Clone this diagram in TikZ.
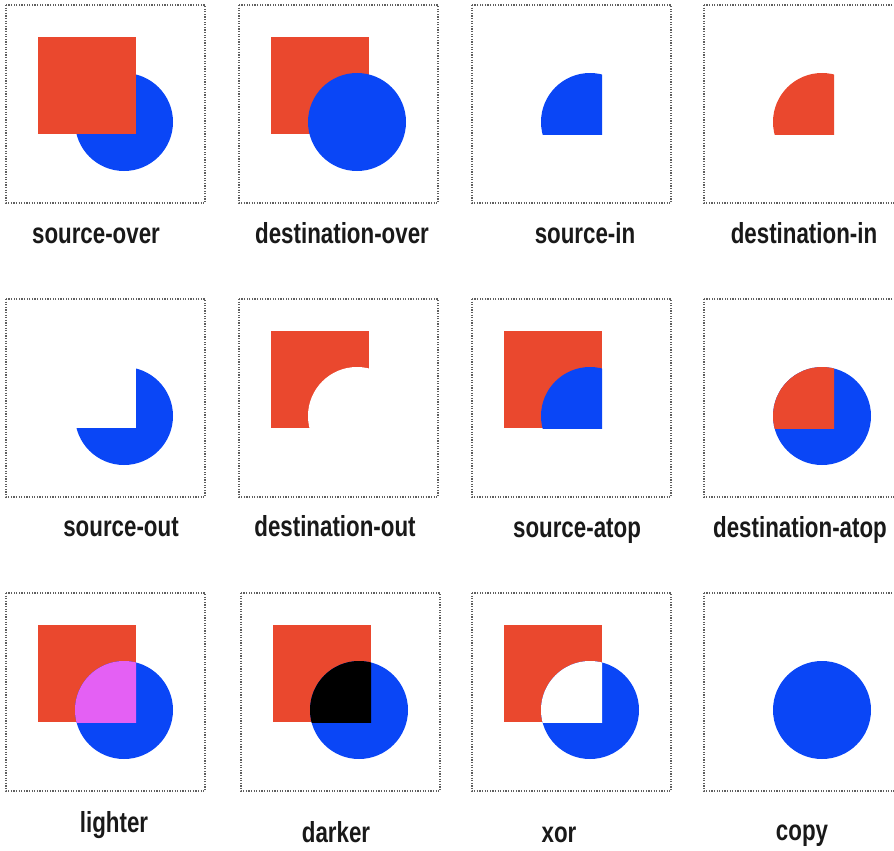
\documentclass[tikz,border=0pt]{standalone}
\usepackage{fontspec}
\newfontfamily\labfont{Liberation Sans Bold}[FakeStretch=0.77]
\definecolor{cred}{RGB}{234,72,46}
\definecolor{cblue}{RGB}{10,70,246}
\definecolor{cpink}{RGB}{228,96,244}
\definecolor{cframe}{RGB}{95,95,95}
\def\SQ{(32,32) rectangle (130,129)}
\def\CI{(118,117) circle[radius=49]}
\tikzset{
  frame/.style={draw=cframe,line width=1.1pt,dash pattern=on 1.2pt off 1.4pt},
  lab/.style={anchor=base,inner sep=0pt,text=black!90,font=\labfont\fontsize{29}{29}\selectfont}
}
\begin{document}
\begin{tikzpicture}[x=1pt,y=-1pt]
\useasboundingbox (0,0) rectangle (894,851);
\clip (0,0) rectangle (894,851);
% ---------- row 1 ----------
\begin{scope}[shift={(6,5)}]
  \fill[cblue] \CI; \fill[cred] \SQ;
  \draw[frame] (0,0) rectangle (199,198);
\end{scope}
\begin{scope}[shift={(239,5)}]
  \fill[cred] \SQ; \fill[cblue] \CI;
  \draw[frame] (0,0) rectangle (199,198);
\end{scope}
\begin{scope}[shift={(472,5)}]
  \begin{scope}\clip \SQ; \fill[cblue] \CI; \end{scope}
  \draw[frame] (0,0) rectangle (199,198);
\end{scope}
\begin{scope}[shift={(704,5)}]
  \begin{scope}\clip \SQ; \fill[cred] \CI; \end{scope}
  \draw[frame] (0,0) rectangle (199,198);
\end{scope}
% ---------- row 2 ----------
\begin{scope}[shift={(6,299)}]
  \fill[cblue] \CI; \fill[white] \SQ;
  \draw[frame] (0,0) rectangle (199,198);
\end{scope}
\begin{scope}[shift={(239,299)}]
  \fill[cred] \SQ;
  \begin{scope}\clip \SQ; \fill[white] \CI; \end{scope}
  \draw[frame] (0,0) rectangle (199,198);
\end{scope}
\begin{scope}[shift={(472,299)}]
  \fill[cred] \SQ;
  \begin{scope}\clip \SQ; \fill[cblue] \CI; \end{scope}
  \draw[frame] (0,0) rectangle (199,198);
\end{scope}
\begin{scope}[shift={(704,299)}]
  \fill[cblue] \CI;
  \begin{scope}\clip \SQ; \fill[cred] \CI; \end{scope}
  \draw[frame] (0,0) rectangle (199,198);
\end{scope}
% ---------- row 3 ----------
\begin{scope}[shift={(6,593)}]
  \fill[cred] \SQ; \fill[cblue] \CI;
  \begin{scope}\clip \SQ; \fill[cpink] \CI; \end{scope}
  \draw[frame] (0,0) rectangle (199,198);
\end{scope}
\begin{scope}[shift={(241,593)}]
  \fill[cred] \SQ; \fill[cblue] \CI;
  \begin{scope}\clip \SQ; \fill[black] \CI; \end{scope}
  \draw[frame] (0,0) rectangle (199,198);
\end{scope}
\begin{scope}[shift={(472,593)}]
  \fill[cred] \SQ; \fill[cblue] \CI;
  \begin{scope}\clip \SQ; \fill[white] \CI; \end{scope}
  \draw[frame] (0,0) rectangle (199,198);
\end{scope}
\begin{scope}[shift={(704,593)}]
  \fill[cblue] \CI;
  \draw[frame] (0,0) rectangle (199,198);
\end{scope}
% ---------- labels ----------
\node[lab] (l1)  at (96,243)  {source-over};
\node[lab] (l2)  at (342,243) {destination-over};
\node[lab] (l3)  at (585,243) {source-in};
\node[lab] (l4)  at (804,243) {destination-in};
\node[lab] (l5)  at (121,536) {source-out};
\node[lab] (l6)  at (335,536) {destination-out};
\node[lab] (l7)  at (577,537) {source-atop};
\node[lab] (l8)  at (800,537) {destination-atop};
\node[lab] (l9)  at (114,832) {lighter};
\node[lab] (l10) at (336,842) {darker};
\node[lab] (l11) at (559,842) {xor};
\node[lab] (l12) at (802,840) {copy};
\end{tikzpicture}
\end{document}
